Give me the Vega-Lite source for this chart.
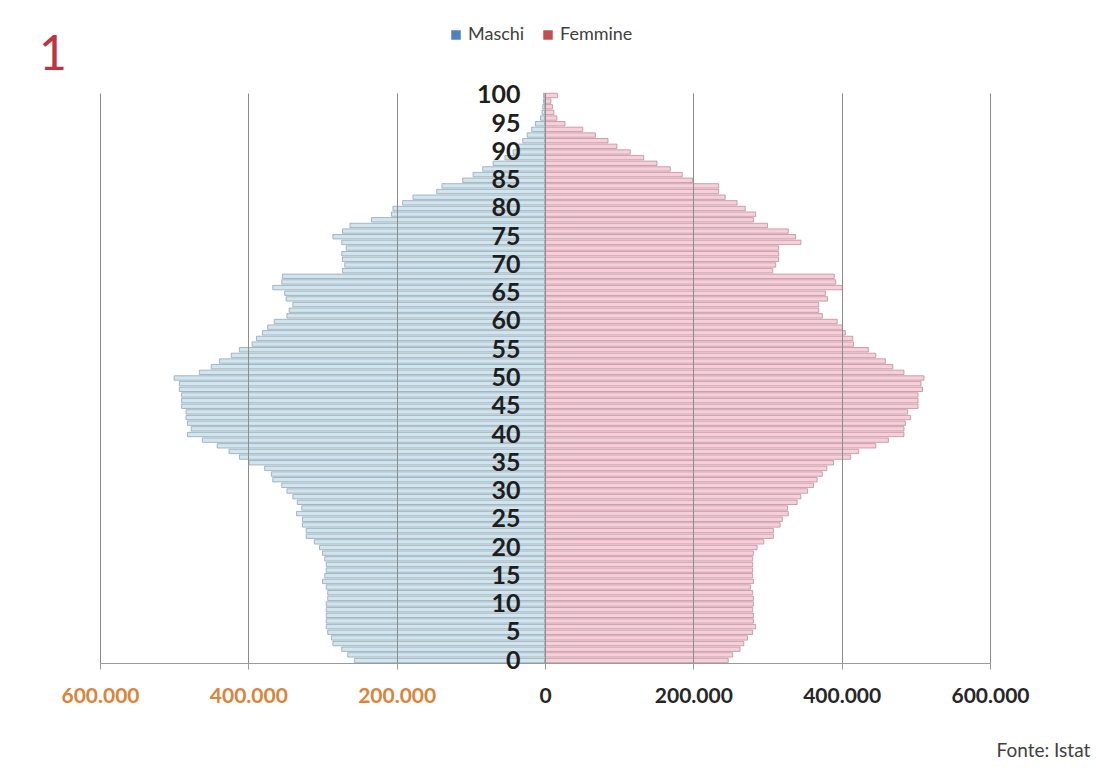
{
  "$schema": "https://vega.github.io/schema/vega-lite/v6.json",
  "width": 890,
  "height": 570,
  "autosize": {"type": "none"},
  "padding": {"left": 100, "top": 93, "right": 106, "bottom": 107},
  "background": "white",
  "title": {
    "text": "1",
    "anchor": "start",
    "frame": "group",
    "dx": -61,
    "offset": -54,
    "font": "Lato",
    "fontSize": 48,
    "fontWeight": "normal",
    "color": "#bf3342"
  },
  "data": {
    "values": [
      {"eta": 0, "Maschi": -257000, "Femmine": 247000},
      {"eta": 1, "Maschi": -266000, "Femmine": 253000},
      {"eta": 2, "Maschi": -274000, "Femmine": 263000},
      {"eta": 3, "Maschi": -286000, "Femmine": 268000},
      {"eta": 4, "Maschi": -288000, "Femmine": 273000},
      {"eta": 5, "Maschi": -293000, "Femmine": 280000},
      {"eta": 6, "Maschi": -295000, "Femmine": 284000},
      {"eta": 7, "Maschi": -295000, "Femmine": 281000},
      {"eta": 8, "Maschi": -295000, "Femmine": 281000},
      {"eta": 9, "Maschi": -295000, "Femmine": 280000},
      {"eta": 10, "Maschi": -295000, "Femmine": 281000},
      {"eta": 11, "Maschi": -293000, "Femmine": 281000},
      {"eta": 12, "Maschi": -293000, "Femmine": 280000},
      {"eta": 13, "Maschi": -295000, "Femmine": 277000},
      {"eta": 14, "Maschi": -300000, "Femmine": 281000},
      {"eta": 15, "Maschi": -297000, "Femmine": 280000},
      {"eta": 16, "Maschi": -295000, "Femmine": 280000},
      {"eta": 17, "Maschi": -295000, "Femmine": 280000},
      {"eta": 18, "Maschi": -297000, "Femmine": 280000},
      {"eta": 19, "Maschi": -300000, "Femmine": 281000},
      {"eta": 20, "Maschi": -304000, "Femmine": 286000},
      {"eta": 21, "Maschi": -311000, "Femmine": 295000},
      {"eta": 22, "Maschi": -322000, "Femmine": 308000},
      {"eta": 23, "Maschi": -322000, "Femmine": 308000},
      {"eta": 24, "Maschi": -327000, "Femmine": 317000},
      {"eta": 25, "Maschi": -327000, "Femmine": 320000},
      {"eta": 26, "Maschi": -335000, "Femmine": 328000},
      {"eta": 27, "Maschi": -328000, "Femmine": 327000},
      {"eta": 28, "Maschi": -334000, "Femmine": 340000},
      {"eta": 29, "Maschi": -340000, "Femmine": 345000},
      {"eta": 30, "Maschi": -348000, "Femmine": 354000},
      {"eta": 31, "Maschi": -355000, "Femmine": 362000},
      {"eta": 32, "Maschi": -367000, "Femmine": 367000},
      {"eta": 33, "Maschi": -369000, "Femmine": 374000},
      {"eta": 34, "Maschi": -378000, "Femmine": 380000},
      {"eta": 35, "Maschi": -399000, "Femmine": 389000},
      {"eta": 36, "Maschi": -412000, "Femmine": 412000},
      {"eta": 37, "Maschi": -426000, "Femmine": 423000},
      {"eta": 38, "Maschi": -442000, "Femmine": 446000},
      {"eta": 39, "Maschi": -462000, "Femmine": 463000},
      {"eta": 40, "Maschi": -482000, "Femmine": 484000},
      {"eta": 41, "Maschi": -477000, "Femmine": 484000},
      {"eta": 42, "Maschi": -482000, "Femmine": 486000},
      {"eta": 43, "Maschi": -484000, "Femmine": 493000},
      {"eta": 44, "Maschi": -484000, "Femmine": 489000},
      {"eta": 45, "Maschi": -490000, "Femmine": 503000},
      {"eta": 46, "Maschi": -490000, "Femmine": 503000},
      {"eta": 47, "Maschi": -490000, "Femmine": 503000},
      {"eta": 48, "Maschi": -493000, "Femmine": 509000},
      {"eta": 49, "Maschi": -493000, "Femmine": 507000},
      {"eta": 50, "Maschi": -500000, "Femmine": 511000},
      {"eta": 51, "Maschi": -466000, "Femmine": 484000},
      {"eta": 52, "Maschi": -450000, "Femmine": 469000},
      {"eta": 53, "Maschi": -439000, "Femmine": 459000},
      {"eta": 54, "Maschi": -423000, "Femmine": 446000},
      {"eta": 55, "Maschi": -412000, "Femmine": 436000},
      {"eta": 56, "Maschi": -395000, "Femmine": 416000},
      {"eta": 57, "Maschi": -389000, "Femmine": 415000},
      {"eta": 58, "Maschi": -381000, "Femmine": 405000},
      {"eta": 59, "Maschi": -374000, "Femmine": 401000},
      {"eta": 60, "Maschi": -365000, "Femmine": 394000},
      {"eta": 61, "Maschi": -348000, "Femmine": 374000},
      {"eta": 62, "Maschi": -345000, "Femmine": 369000},
      {"eta": 63, "Maschi": -340000, "Femmine": 369000},
      {"eta": 64, "Maschi": -349000, "Femmine": 381000},
      {"eta": 65, "Maschi": -351000, "Femmine": 378000},
      {"eta": 66, "Maschi": -367000, "Femmine": 401000},
      {"eta": 67, "Maschi": -355000, "Femmine": 392000},
      {"eta": 68, "Maschi": -354000, "Femmine": 390000},
      {"eta": 69, "Maschi": -273000, "Femmine": 307000},
      {"eta": 70, "Maschi": -270000, "Femmine": 311000},
      {"eta": 71, "Maschi": -273000, "Femmine": 315000},
      {"eta": 72, "Maschi": -274000, "Femmine": 315000},
      {"eta": 73, "Maschi": -268000, "Femmine": 315000},
      {"eta": 74, "Maschi": -274000, "Femmine": 345000},
      {"eta": 75, "Maschi": -286000, "Femmine": 338000},
      {"eta": 76, "Maschi": -273000, "Femmine": 328000},
      {"eta": 77, "Maschi": -263000, "Femmine": 300000},
      {"eta": 78, "Maschi": -234000, "Femmine": 281000},
      {"eta": 79, "Maschi": -207000, "Femmine": 284000},
      {"eta": 80, "Maschi": -205000, "Femmine": 270000},
      {"eta": 81, "Maschi": -192000, "Femmine": 259000},
      {"eta": 82, "Maschi": -178000, "Femmine": 243000},
      {"eta": 83, "Maschi": -146000, "Femmine": 234000},
      {"eta": 84, "Maschi": -139000, "Femmine": 234000},
      {"eta": 85, "Maschi": -111000, "Femmine": 199000},
      {"eta": 86, "Maschi": -97000, "Femmine": 185000},
      {"eta": 87, "Maschi": -84000, "Femmine": 169000},
      {"eta": 88, "Maschi": -70000, "Femmine": 151000},
      {"eta": 89, "Maschi": -54000, "Femmine": 133000},
      {"eta": 90, "Maschi": -43000, "Femmine": 115000},
      {"eta": 91, "Maschi": -36000, "Femmine": 97000},
      {"eta": 92, "Maschi": -30000, "Femmine": 85000},
      {"eta": 93, "Maschi": -24000, "Femmine": 68000},
      {"eta": 94, "Maschi": -18000, "Femmine": 51000},
      {"eta": 95, "Maschi": -13000, "Femmine": 27000},
      {"eta": 96, "Maschi": -6000, "Femmine": 16000},
      {"eta": 97, "Maschi": -4000, "Femmine": 12000},
      {"eta": 98, "Maschi": -3000, "Femmine": 10000},
      {"eta": 99, "Maschi": -2000, "Femmine": 8000},
      {"eta": 100, "Maschi": -2000, "Femmine": 17000}
    ]
  },
  "transform": [
    {"fold": ["Maschi", "Femmine"], "as": ["sesso", "popolazione"]}
  ],
  "encoding": {
    "y": {
      "field": "eta",
      "type": "ordinal",
      "sort": "descending",
      "scale": {"paddingInner": 0.22, "paddingOuter": 0.05},
      "axis": {
        "title": null,
        "values": [0, 5, 10, 15, 20, 25, 30, 35, 40, 45, 50, 55, 60, 65, 70, 75, 80, 85, 90, 95, 100],
        "domain": false,
        "ticks": false,
        "grid": false,
        "offset": -422,
        "labelPadding": 2,
        "labelFont": "Lato",
        "labelFontSize": 25,
        "labelFontWeight": "bold",
        "labelColor": "#1e1e1e",
        "labelBaseline": "middle",
        "zindex": 2
      }
    },
    "x": {
      "field": "popolazione",
      "type": "quantitative",
      "scale": {"domain": [-600000, 600000], "nice": false, "zero": false},
      "axis": {
        "values": [-600000, -400000, -200000, 0, 200000, 400000, 600000],
        "labelExpr": "datum.value == 0 ? '0' : format(abs(datum.value) / 1000, 'd') + '.000'",
        "labelFlush": false,
        "labelFont": "Lato",
        "labelFontSize": 21,
        "labelFontWeight": "bold",
        "labelColor": {"condition": {"test": "datum.value < 0", "value": "#d8843a"}, "value": "#262626"},
        "labelPadding": 16,
        "grid": true,
        "gridColor": "#8c8c8c",
        "gridWidth": 1,
        "domainColor": "#9a9a9a",
        "tickColor": "#9a9a9a",
        "tickSize": 6,
        "zindex": 1,
        "title": "Fonte: Istat",
        "titleX": 896,
        "titleY": 93,
        "titleAlign": "left",
        "titleBaseline": "alphabetic",
        "titleFont": "Lato",
        "titleFontSize": 19,
        "titleFontWeight": "normal",
        "titleColor": "#404040"
      }
    }
  },
  "layer": [
    {
      "mark": {"type": "bar", "strokeWidth": 0.8, "strokeOpacity": 0.9},
      "encoding": {
        "color": {
          "field": "sesso",
          "type": "nominal",
          "scale": {"range": ["#f6cfda", "#cfe6f0"]},
          "legend": null
        },
        "stroke": {
          "field": "sesso",
          "type": "nominal",
          "scale": {"range": ["#b88493", "#8d9eaa"]},
          "legend": null
        }
      }
    },
    {
      "transform": [{"filter": "datum.eta < 0"}],
      "mark": {"type": "point", "shape": "square", "filled": true, "opacity": 1},
      "encoding": {
        "fill": {
          "field": "sesso",
          "type": "nominal",
          "scale": {"domain": ["Maschi", "Femmine"], "range": ["#4f81bd", "#c0504d"]},
          "legend": {
            "title": null,
            "orient": "none",
            "legendX": 347,
            "legendY": -67,
            "direction": "horizontal",
            "symbolType": "square",
            "symbolSize": 90,
            "symbolStrokeWidth": 0,
            "labelFont": "Lato",
            "labelFontSize": 18,
            "labelColor": "#404040",
            "labelOffset": 3,
            "columnPadding": 14
          }
        }
      }
    }
  ],
  "config": {
    "view": {"stroke": null}
  }
}
